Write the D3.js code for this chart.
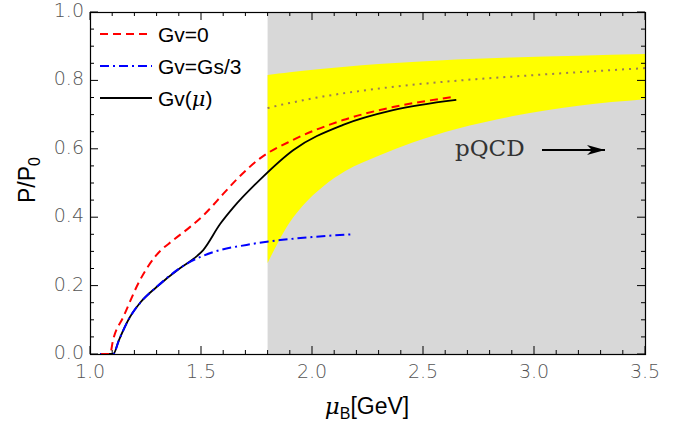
<!DOCTYPE html>
<html lang="en">
  <head>
    <meta charset="UTF-8" />
    <title>P/P0 vs muB</title>
    <script src="https://cdn.jsdelivr.net/npm/d3@7"></script>
    <style>
      body { margin: 0; background: #fff; }
      .tick-label { font-family: 'DejaVu Sans', sans-serif; font-weight: 200; fill: #555; font-size: 19px; }
    </style>
  </head>
  <body>
    <svg width="694" height="426"></svg>
    <script>
      // Gv=0 (red dashed)
      const gv0Mu = [1.05, 1.09, 1.104, 1.15, 1.225, 1.3, 1.375, 1.45, 1.51, 1.6, 1.66, 1.766, 1.915, 2.14, 2.365, 2.63]
      const gv0P = [0, 0, 0.041, 0.108, 0.216, 0.29, 0.333, 0.371, 0.405, 0.468, 0.51, 0.572, 0.626, 0.684, 0.722, 0.751]
      // Gv=Gs/3 (blue dash-dot)
      const gvsMu = [1.045, 1.105, 1.13, 1.18, 1.225, 1.3, 1.405, 1.45, 1.555, 1.705, 1.856, 2.0, 2.18]
      const gvsP = [0, 0, 0.04, 0.108, 0.149, 0.196, 0.251, 0.269, 0.298, 0.319, 0.333, 0.342, 0.35]
      // Gv(mu) (black solid)
      const gvmMu = [1.045, 1.105, 1.13, 1.18, 1.225, 1.3, 1.405, 1.47, 1.51, 1.586, 1.645, 1.766, 1.915, 2.14, 2.365, 2.65]
      const gvmP = [0, 0, 0.04, 0.108, 0.149, 0.196, 0.251, 0.28, 0.304, 0.38, 0.428, 0.51, 0.596, 0.67, 0.713, 0.743]
      // pQCD band
      const bandMu = [1.8, 1.85, 1.9, 1.96, 2.05, 2.15, 2.3, 2.45, 2.65, 2.9, 3.2, 3.5]
      const bandLow = [0.266, 0.33, 0.385, 0.435, 0.49, 0.535, 0.58, 0.618, 0.658, 0.695, 0.726, 0.745]
      const bandHigh = [0.816, 0.82, 0.824, 0.828, 0.834, 0.84, 0.848, 0.854, 0.861, 0.867, 0.872, 0.877]
      const bandMid = [0.719, 0.727, 0.734, 0.742, 0.753, 0.763, 0.776, 0.787, 0.799, 0.811, 0.824, 0.836]

      const xTicks = [1.0, 1.5, 2.0, 2.5, 3.0, 3.5]
      const yTicks = [0.0, 0.2, 0.4, 0.6, 0.8, 1.0]

      const svg = d3.select('svg')
      const x = d3.scaleLinear().domain([1.0, 3.5]).range([90, 645])
      const y = d3.scaleLinear().domain([0, 1]).range([354, 12])

      // shaded pQCD region
      svg.append('rect')
        .attr('x', x(1.8)).attr('y', y(1))
        .attr('width', x(3.5) - x(1.8)).attr('height', y(0) - y(1))
        .attr('fill', '#d8d8d8')

      const band = bandMu.map((m, i) => ({ m, lo: bandLow[i], hi: bandHigh[i], mid: bandMid[i] }))
      svg.append('path')
        .datum(band)
        .attr('fill', '#ffff00')
        .attr('d', d3.area().x(d => x(d.m)).y0(d => y(d.lo)).y1(d => y(d.hi)).curve(d3.curveMonotoneX))

      svg.append('path')
        .datum(band)
        .attr('fill', 'none')
        .attr('stroke', '#9b7d55')
        .attr('stroke-width', 2)
        .attr('stroke-dasharray', '2,5')
        .attr('d', d3.line().x(d => x(d.m)).y(d => y(d.mid)).curve(d3.curveMonotoneX))

      const line = d3.line().x(d => x(d[0])).y(d => y(d[1])).curve(d3.curveMonotoneX)
      const zip = (a, b) => a.map((v, i) => [v, b[i]])

      svg.append('path').datum(zip(gvmMu, gvmP))
        .attr('fill', 'none').attr('stroke', '#000').attr('stroke-width', 1.8).attr('d', line)
      svg.append('path').datum(zip(gvsMu, gvsP))
        .attr('fill', 'none').attr('stroke', '#0000ff').attr('stroke-width', 2)
        .attr('stroke-dasharray', '9,4,2,4').attr('d', line)
      svg.append('path').datum(zip(gv0Mu, gv0P))
        .attr('fill', 'none').attr('stroke', '#ff0000').attr('stroke-width', 2)
        .attr('stroke-dasharray', '8,5').attr('d', line)

      // frame + ticks (inward, all four sides)
      const g = svg.append('g')
      const x0 = x.range()[0], x1 = x.range()[1], y0 = y.range()[0], y1 = y.range()[1]
      d3.range(10, 36).map(v => v / 10).forEach(v => {
        const len = xTicks.some(t => Math.abs(t - v) < 1e-6) ? 8 : 4
        g.append('line').attr('x1', x(v)).attr('x2', x(v)).attr('y1', y0).attr('y2', y0 - len).attr('stroke', '#000')
        g.append('line').attr('x1', x(v)).attr('x2', x(v)).attr('y1', y1).attr('y2', y1 + len).attr('stroke', '#000')
      })
      d3.range(0, 21).map(v => v / 20).forEach(v => {
        const len = yTicks.some(t => Math.abs(t - v) < 1e-6) ? 8 : 4
        g.append('line').attr('y1', y(v)).attr('y2', y(v)).attr('x1', x0).attr('x2', x0 + len).attr('stroke', '#000')
        g.append('line').attr('y1', y(v)).attr('y2', y(v)).attr('x1', x1).attr('x2', x1 - len).attr('stroke', '#000')
      })
      g.append('rect').attr('x', x0 + 0.5).attr('y', y1 + 0.5).attr('width', x1 - x0).attr('height', y0 - y1)
        .attr('fill', 'none').attr('stroke', '#000').attr('stroke-width', 1.2)

      g.selectAll('.xl').data(xTicks).enter().append('text')
        .attr('class', 'tick-label').attr('x', d => x(d)).attr('y', y0 + 24)
        .attr('text-anchor', 'middle').text(d => d.toFixed(1))
      g.selectAll('.yl').data(yTicks).enter().append('text')
        .attr('class', 'tick-label').attr('x', x0 - 6).attr('y', d => y(d) + 5)
        .attr('text-anchor', 'end').text(d => d.toFixed(1))

      // axis titles
      svg.append('text')
        .attr('transform', 'translate(35,180) rotate(-90)')
        .attr('text-anchor', 'middle')
        .style('font-family', 'Liberation Sans, Arial, sans-serif').style('font-size', '23px')
        .html('P/P<tspan font-size="16px" dy="5">0</tspan>')
      svg.append('text')
        .attr('x', 367).attr('y', 414)
        .attr('text-anchor', 'middle')
        .style('font-family', 'Liberation Sans, Arial, sans-serif').style('font-size', '23px')
        .html('<tspan font-style="italic" font-family="DejaVu Serif">μ</tspan><tspan font-size="16px" dy="5">B</tspan><tspan dy="-5">[GeV]</tspan>')

      // legend
      const legend = [
        { label: 'Gv=0', color: '#ff0000', dash: '8,5', w: 2 },
        { label: 'Gv=Gs/3', color: '#0000ff', dash: '9,4,2,4', w: 2 },
        { label: 'Gv(μ)', color: '#000', dash: null, w: 1.8 }
      ]
      const lg = svg.append('g').selectAll('g').data(legend).enter().append('g')
        .attr('transform', (d, i) => `translate(100,${34 + i * 32})`)
      lg.append('line').attr('x1', 0).attr('x2', 52).attr('y1', 0).attr('y2', 0)
        .attr('stroke', d => d.color).attr('stroke-width', d => d.w)
        .attr('stroke-dasharray', d => d.dash)
      lg.append('text').attr('x', 58).attr('y', 8)
        .style('font-family', 'Liberation Sans, Arial, sans-serif').style('font-size', '21px')
        .html(d => d.label === 'Gv(μ)' ? 'Gv(<tspan font-style="italic" font-family="DejaVu Serif">μ</tspan>)' : d.label)

      // pQCD annotation
      svg.append('text').attr('x', 455).attr('y', 156)
        .style('font-family', 'DejaVu Serif, serif').style('font-size', '23px').style('font-weight', 200)
        .attr('fill', '#333').text('pQCD')
      svg.append('defs').append('marker').attr('id', 'arr')
        .attr('viewBox', '0 0 18 10').attr('refX', 18).attr('refY', 5)
        .attr('markerWidth', 18).attr('markerHeight', 10).attr('markerUnits', 'userSpaceOnUse')
        .attr('orient', 'auto')
        .append('path').attr('d', 'M0,0 L18,5 L0,10 L5,5 Z').attr('fill', '#000')
      svg.append('line').attr('x1', 542).attr('x2', 605).attr('y1', 150).attr('y2', 150)
        .attr('stroke', '#000').attr('stroke-width', 2).attr('marker-end', 'url(#arr)')
    </script>
  </body>
</html>
